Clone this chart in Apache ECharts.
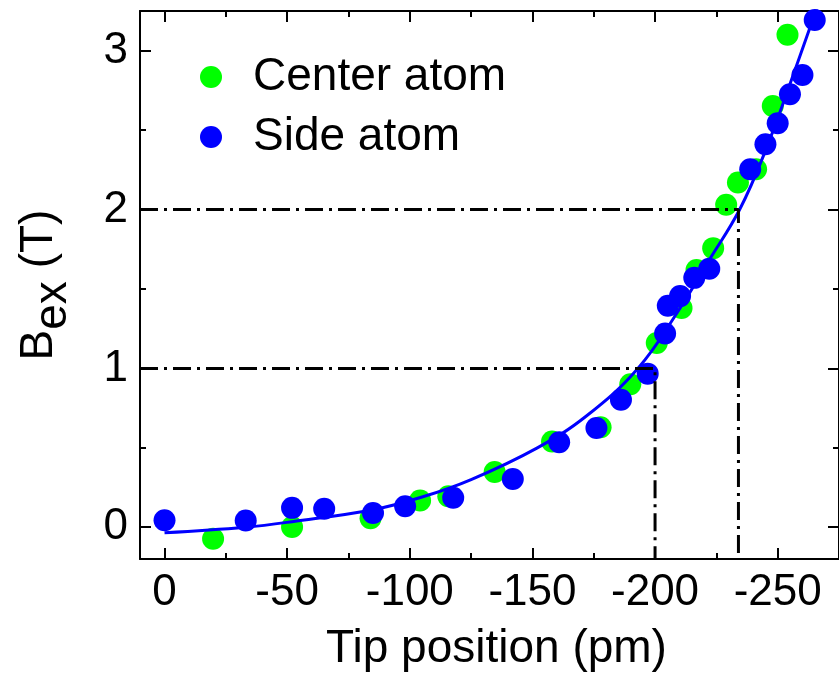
<!DOCTYPE html>
<html>
<head>
<meta charset="utf-8">
<script src="https://cdn.jsdelivr.net/npm/echarts@6/dist/echarts.min.js"></script>
<style>
html,body{margin:0;padding:0;background:#fff;}
#chart{width:839px;height:678px;}
</style>
</head>
<body>
<div id="chart"></div>
<script>
// ---- data ----
var centerX = [-19.8, -52, -84, -104.2, -115.7, -134.6, -158, -177.8, -189.9, -200.7, -210.8, -216.9, -223.7, -229, -233.8, -241.2, -248, -254];
var centerY = [-0.073, 0.002, 0.057, 0.168, 0.195, 0.348, 0.54, 0.63, 0.90, 1.16, 1.38, 1.62, 1.757, 2.03, 2.17, 2.254, 2.652, 3.10];

var sideX = [0, -33.1, -52, -65.1, -85, -98.1, -117.7, -142, -160.9, -176.1, -186.1, -197, -204.1, -205.2, -210.2, -216, -222.1, -238.8, -245, -250, -255, -260.1, -265.1];
var sideY = [0.044, 0.042, 0.122, 0.116, 0.09, 0.132, 0.185, 0.304, 0.535, 0.625, 0.803, 0.967, 1.22, 1.394, 1.455, 1.57, 1.627, 2.254, 2.411, 2.543, 2.726, 2.847, 3.193];

var fitX = [0, -33, -52, -85, -105, -125, -152, -172, -193, -209, -222, -234.5, -245, -258, -266];
var fitY = [-0.035, 0.0, 0.035, 0.11, 0.19, 0.30, 0.50, 0.70, 1.00, 1.35, 1.68, 2.0, 2.37, 2.92, 3.27];

var guideX = [-200, -234];   // vertical dash-dot lines
var guideY = [1, 2];         // horizontal dash-dot lines

var xMajor = [0, -50, -100, -150, -200, -250];
var xMinor = [-25, -75, -125, -175, -225];
var yMajor = [0, 1, 2, 3];
var yMinor = [0.5, 1.5, 2.5];

var xMin = -275, xMax = 10;
var yMin = -0.2, yMax = 3.25;

// ---- build ----
function pairs(xs, ys){ return xs.map(function(x,i){ return [x, ys[i]]; }); }
var FONT = '"Liberation Sans", Arial, sans-serif';

function xAx(pos, major, vals, withLabel, withLine, name){
  var o = {
    type: 'value', position: pos, min: xMin, max: xMax, inverse: true,
    splitLine: {show: false},
    axisLine: {show: withLine, onZero: false, lineStyle: {color: '#000', width: 2}},
    axisTick: {show: true, inside: true, length: major ? 11 : 6, customValues: vals, lineStyle: {color: '#000', width: 2}},
    axisLabel: withLabel ? {show: true, customValues: vals, fontSize: 44, margin: 12, color: '#000', fontFamily: FONT} : {show: false}
  };
  if (name) {
    o.name = name; o.nameLocation = 'middle'; o.nameGap = 67;
    o.nameTextStyle = {fontSize: 46, color: '#000', fontFamily: FONT, padding: [0, 0, 0, 14]};
  }
  return o;
}
function yAx(pos, major, vals, withLabel, withLine, name){
  var o = {
    type: 'value', position: pos, min: yMin, max: yMax,
    splitLine: {show: false},
    axisLine: {show: withLine, onZero: false, lineStyle: {color: '#000', width: 2}},
    axisTick: {show: true, inside: true, length: major ? 11 : 6, customValues: vals, lineStyle: {color: '#000', width: 2}},
    axisLabel: withLabel ? {show: true, customValues: vals, fontSize: 44, margin: 12, color: '#000', fontFamily: FONT} : {show: false}
  };
  if (name) {
    o.name = name; o.nameLocation = 'middle'; o.nameGap = 64; o.nameRotate = 90;
    o.nameTextStyle = {
      color: '#000', fontFamily: FONT, fontSize: 46,
      rich: {
        b: {fontSize: 46, color: '#000', fontFamily: FONT},
        s: {fontSize: 46, color: '#000', fontFamily: FONT, padding: [28, 0, 0, 0]}
      }
    };
  }
  return o;
}

var guideSeries = guideX.map(function(gx, i){
  return {
    type: 'line', name: 'guide' + i, data: [[xMax, guideY[i]], [gx, guideY[i]], [gx, yMin]],
    symbol: 'none', silent: true, z: 10,
    lineStyle: {color: '#000', width: 3, type: [18, 6, 3, 6]}
  };
});

var option = {
  backgroundColor: '#fff',
  animation: false,
  grid: {left: 140, top: 11, width: 703, height: 548, containLabel: false},
  legend: {
    orient: 'vertical', left: 200, top: 54, padding: 0, itemGap: 14,
    itemWidth: 22, itemHeight: 22,
    data: [{name: 'Center atom', icon: 'circle'}, {name: 'Side atom', icon: 'circle'}],
    textStyle: {fontSize: 46, color: '#000', fontFamily: FONT, padding: [0, 0, 14, 26]}
  },
  xAxis: [
    xAx('bottom', true, xMajor, true, true, 'Tip position (pm)'),
    xAx('bottom', false, xMinor, false, false),
    xAx('top', true, xMajor, false, true),
    xAx('top', false, xMinor, false, false)
  ],
  yAxis: [
    yAx('left', true, yMajor, true, true, '{b|B}{s|ex}{b| (T)}'),
    yAx('left', false, yMinor, false, false),
    yAx('right', true, yMajor, false, true),
    yAx('right', false, yMinor, false, false)
  ],
  series: [
    {type: 'scatter', name: 'Center atom', data: pairs(centerX, centerY), symbol: 'circle', symbolSize: 22,
     itemStyle: {color: '#00FF00', opacity: 1}, z: 2},
    {type: 'line', name: 'fit', data: pairs(fitX, fitY), smooth: 0.4, symbol: 'none', showSymbol: false,
     lineStyle: {color: '#0000FF', width: 3}, z: 3},
    {type: 'scatter', name: 'Side atom', data: pairs(sideX, sideY), symbol: 'circle', symbolSize: 22,
     itemStyle: {color: '#0000FF', opacity: 1}, z: 4}
  ].concat(guideSeries)
};

var chart = echarts.init(document.getElementById('chart'), null, {renderer: 'canvas'});
chart.setOption(option);
</script>
</body>
</html>
